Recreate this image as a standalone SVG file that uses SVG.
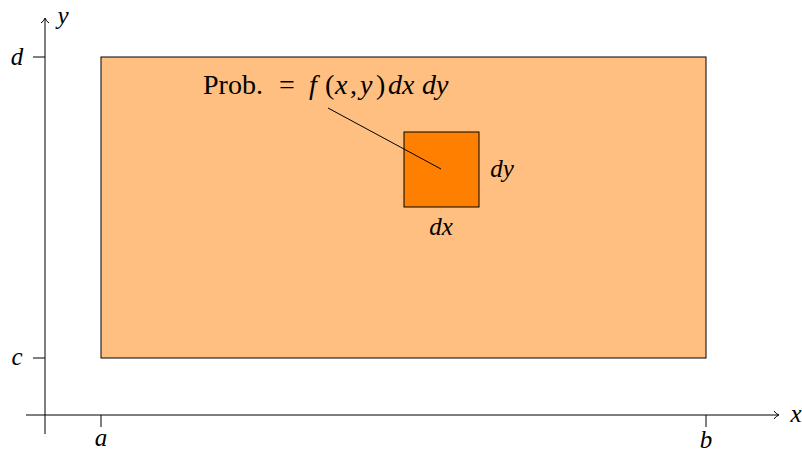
<svg xmlns="http://www.w3.org/2000/svg" width="802" height="452" viewBox="0 0 802 452">
<style>
.ax{stroke:#000;stroke-width:1;fill:none}
.t{font-family:"Liberation Serif","DejaVu Serif",serif;font-size:25px;fill:#000}
.big{font-size:28px}
.m{font-style:italic}
</style>
<rect width="802" height="452" fill="#fff"/>
<g id="region">
<rect x="101" y="57" width="605" height="301" fill="#FFBF80" stroke="#000" stroke-width="1"/>
</g>
<g id="cell">
<rect x="404" y="132" width="75" height="75" fill="#FF8000" stroke="#000" stroke-width="1"/>
<text class="t m" x="502" y="177" text-anchor="middle">dy</text>
<text class="t m" x="441" y="235" text-anchor="middle">dx</text>
</g>
<g id="label">
<text class="t big" y="94"><tspan x="203">Prob.</tspan><tspan x="279">=</tspan><tspan x="309" class="m">f</tspan><tspan x="325">(</tspan><tspan x="335" class="m">x</tspan><tspan x="350">,</tspan><tspan x="360" class="m">y</tspan><tspan x="376">)</tspan><tspan x="388" class="m">dx</tspan><tspan x="422" class="m">dy</tspan></text>
</g>
<g id="connectors">
<line class="ax" x1="328" y1="108" x2="441" y2="169"/>
<line class="ax" x1="45" y1="434" x2="45" y2="19"/>
<path class="ax" d="M41,23 Q44,21 45,18 Q46,21 49,23"/>
<line class="ax" x1="26" y1="415" x2="778" y2="415"/>
<path class="ax" d="M774,411 Q776,414 779,415 Q776,416 774,419"/>
<line class="ax" x1="33" y1="57" x2="45" y2="57"/>
<line class="ax" x1="33" y1="358" x2="45" y2="358"/>
<line class="ax" x1="101" y1="415" x2="101" y2="427"/>
<line class="ax" x1="706" y1="415" x2="706" y2="427"/>
</g>
<g id="axislabels">
<text class="t m" x="63" y="24" text-anchor="middle">y</text>
<text class="t m" x="796" y="422" text-anchor="middle">x</text>
<text class="t m" x="17" y="65" text-anchor="middle">d</text>
<text class="t m" x="17" y="365" text-anchor="middle">c</text>
<text class="t m" x="101" y="446" text-anchor="middle">a</text>
<text class="t m" x="706" y="448" text-anchor="middle">b</text>
</g>
</svg>
